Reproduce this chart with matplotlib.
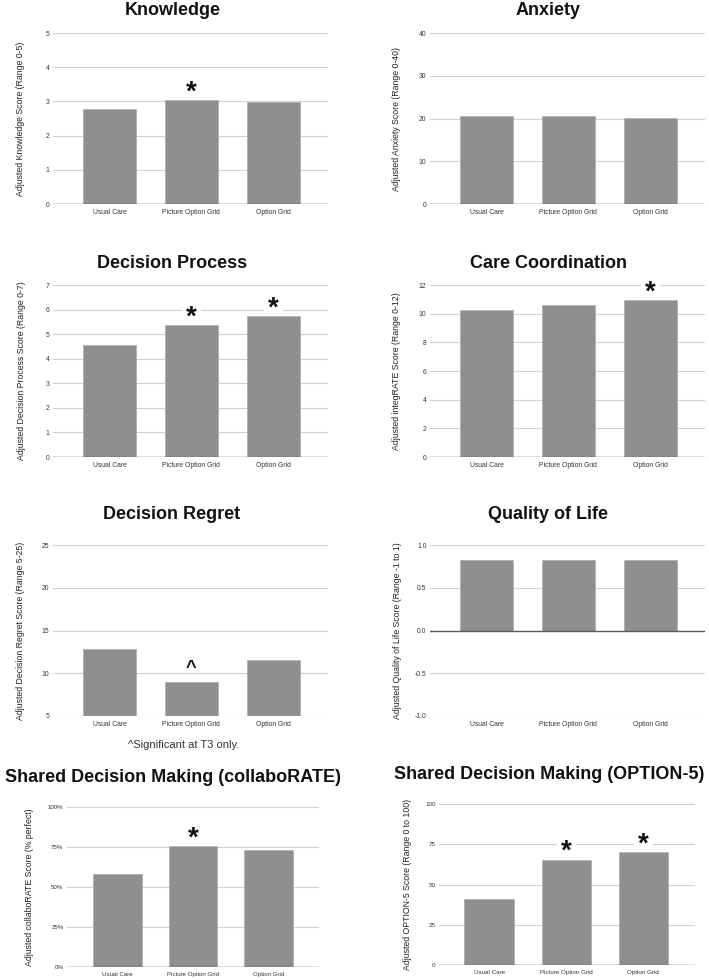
import matplotlib
matplotlib.use('Agg')
import matplotlib.pyplot as plt
from matplotlib.ticker import FuncFormatter

plt.rcParams['font.family'] = ['Liberation Sans', 'DejaVu Sans']

categories = ['Usual Care', 'Picture Option Grid', 'Option Grid']

knowledge = [2.77, 3.03, 2.99]
anxiety = [20.6, 20.7, 20.1]
decision_process = [4.55, 5.37, 5.73]
care_coordination = [10.27, 10.57, 10.95]
decision_regret = [12.81, 9.02, 11.52]
quality_of_life = [0.82, 0.83, 0.82]
collaborate = [57.9, 75.6, 73.1]
option5 = [40.7, 65.5, 69.9]

knowledge_marks = ['', '*', '']
anxiety_marks = ['', '', '']
process_marks = ['', '*', '*']
coordination_marks = ['', '', '*']
regret_marks = ['', '^', '']
qol_marks = ['', '', '']
collaborate_marks = ['', '*', '']
option5_marks = ['', '*', '*']

W, H = 709, 980
BAR = '#8f8f8f'
GRID = '#d2d2d2'
BASE = '#5a5a5a'
TICK = '#333333'

fig = plt.figure(figsize=(W / 100, H / 100), dpi=100)


def px_axes(l, t, r, b):
    return fig.add_axes([l / W, 1 - b / H, (r - l) / W, (b - t) / H])


def panel(rect, values, marks, title, title_xy, ylabel, label_x, yticks,
          fmt=None, tick_size=4.9, xlim=(-0.69, 2.67), width=0.65):
    ax = px_axes(*rect)
    ymin, ymax = yticks[0], yticks[-1]
    bottom = ymin if ymin > 0 else 0
    x = range(len(categories))
    ax.bar(x, [v - bottom for v in values], bottom=bottom, width=width,
           color=BAR, edgecolor='#a5a5a5', linewidth=0.4, zorder=3)
    ax.set_xlim(*xlim)
    ax.set_ylim(ymin, ymax)
    ax.set_yticks(yticks)
    if fmt:
        ax.yaxis.set_major_formatter(FuncFormatter(fmt))
    ax.set_xticks(list(x))
    ax.set_xticklabels(categories)
    for s in ax.spines.values():
        s.set_visible(False)
    ax.grid(axis='y', color=GRID, linewidth=0.8)
    ax.set_axisbelow(True)
    if ymin <= 0 <= ymax:
        ax.axhline(0, color=BASE, linewidth=1.0, zorder=4)
    ax.tick_params(length=0, labelsize=tick_size, labelcolor=TICK)
    ax.tick_params(axis='y', pad=2.5)
    ax.tick_params(axis='x', pad=3.5)

    for i, (v, m) in enumerate(zip(values, marks)):
        if m == '*':
            ax.annotate(m, (i, v), xytext=(0, 0.5), textcoords='offset points',
                        ha='center', va='baseline', fontsize=20, fontweight='bold',
                        color='#111111', zorder=2,
                        bbox=dict(boxstyle='square,pad=0.15', fc='white', ec='none'))
        elif m == '^':
            ax.annotate(m, (i, v), xytext=(0, 6), textcoords='offset points',
                        ha='center', va='baseline', fontsize=13, fontweight='bold',
                        color='#111111', zorder=2)

    ax.set_ylabel(ylabel, fontsize=6.3, color='#222222', va='center')
    l, r = rect[0], rect[2]
    ax.yaxis.set_label_coords((label_x - l) / (r - l), 0.5)

    fig.text(title_xy[0] / W, 1 - title_xy[1] / H, title, ha='center',
             va='baseline', fontsize=13, fontweight='bold', color='#111111')
    return ax


panel((53, 33, 328, 204), knowledge, knowledge_marks, 'Knowledge', (173, 15),
      'Adjusted Knowledge Score (Range 0-5)', 21, [0, 1, 2, 3, 4, 5])
panel((430, 33, 705, 204), anxiety, anxiety_marks, 'Anxiety', (548, 15),
      'Adjusted Anxiety Score (Range 0-40)', 397, [0, 10, 20, 30, 40])
panel((53, 285, 328, 457), decision_process, process_marks, 'Decision Process',
      (172, 268), 'Adjusted Decision Process Score (Range 0-7)', 22,
      [0, 1, 2, 3, 4, 5, 6, 7])
panel((430, 285, 705, 457), care_coordination, coordination_marks,
      'Care Coordination', (548, 268), 'Adjusted integRATE Score (Range 0-12)',
      397, [0, 2, 4, 6, 8, 10, 12])
panel((53, 545, 328, 716), decision_regret, regret_marks, 'Decision Regret',
      (172, 519), 'Adjusted Decision Regret Score (Range 5-25)', 21,
      [5, 10, 15, 20, 25])
panel((430, 545, 705, 716), quality_of_life, qol_marks, 'Quality of Life',
      (548, 519), 'Adjusted Quality of Life Score (Range -1 to 1)', 398,
      [-1.0, -0.5, 0.0, 0.5, 1.0], fmt=lambda v, p: f'{v:.1f}')
panel((67, 807, 319, 967), collaborate, collaborate_marks,
      'Shared Decision Making (collaboRATE)', (173, 782),
      'Adjusted collaboRATE Score (% perfect)', 30, [0, 25, 50, 75, 100],
      fmt=lambda v, p: f'{v:.0f}%', tick_size=4.4, xlim=(-0.67, 2.67), width=0.64)
panel((439, 804, 695, 965), option5, option5_marks,
      'Shared Decision Making (OPTION-5)', (549, 779),
      'Adjusted OPTION-5 Score (Range 0 to 100)', 407, [0, 25, 50, 75, 100],
      tick_size=4.5, xlim=(-0.65, 2.67), width=0.64)

fig.text(184 / W, 1 - 748 / H, '^Significant at T3 only.', ha='center',
         va='baseline', fontsize=8, color='#333333')

fig.savefig('out.png', dpi=100, facecolor='white')
